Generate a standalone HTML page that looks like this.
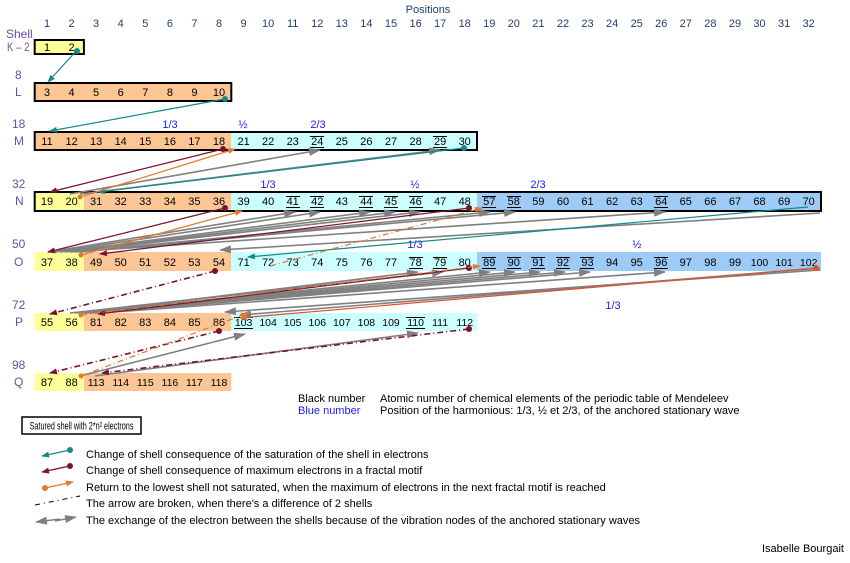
<!DOCTYPE html>
<html><head><meta charset="utf-8"><style>
body{margin:0;background:#fff;width:850px;height:558px;overflow:hidden}
svg{font-family:"Liberation Sans",sans-serif;font-size:11px}
.h{fill:#1f3f6e;text-anchor:middle}
.s{fill:#6a4fa6;font-size:12px}
.n text{text-anchor:middle;fill:#000}
.b{fill:#1a1aff;text-anchor:middle}
.u{stroke:#000;stroke-width:1}
.t3{font-size:10.5px}
</style></head><body>
<svg width="850" height="558" viewBox="0 0 850 558">
<defs>
<marker id="at" markerWidth="8" markerHeight="6" refX="7" refY="3" orient="auto" markerUnits="userSpaceOnUse"><path d="M0,0L8,3L0,6z" fill="#138a8a"/></marker>
<marker id="am" markerWidth="8" markerHeight="6" refX="7" refY="3" orient="auto" markerUnits="userSpaceOnUse"><path d="M0,0L8,3L0,6z" fill="#7b1030"/></marker>
<marker id="ao" markerWidth="8" markerHeight="6" refX="7" refY="3" orient="auto" markerUnits="userSpaceOnUse"><path d="M0,0L8,3L0,6z" fill="#e07a30"/></marker>
<marker id="ag" markerWidth="12" markerHeight="8" refX="11" refY="4" orient="auto" markerUnits="userSpaceOnUse"><path d="M0,0L12,4L0,8z" fill="#7f7f7f"/></marker>
</defs>
<text x="428" y="13" class="h" style="fill:#1f3f6e">Positions</text>
<g class="h">
<text x="47" y="27">1</text><text x="71.6" y="27">2</text><text x="96.1" y="27">3</text><text x="120.7" y="27">4</text><text x="145.3" y="27">5</text><text x="169.9" y="27">6</text><text x="194.4" y="27">7</text><text x="219" y="27">8</text><text x="243.6" y="27">9</text><text x="268.1" y="27">10</text><text x="292.7" y="27">11</text><text x="317.3" y="27">12</text><text x="341.8" y="27">13</text><text x="366.4" y="27">14</text><text x="391" y="27">15</text><text x="415.6" y="27">16</text><text x="440.1" y="27">17</text><text x="464.7" y="27">18</text><text x="489.3" y="27">19</text><text x="513.8" y="27">20</text><text x="538.4" y="27">21</text><text x="563" y="27">22</text><text x="587.5" y="27">23</text><text x="612.1" y="27">24</text><text x="636.7" y="27">25</text><text x="661.3" y="27">26</text><text x="685.8" y="27">27</text><text x="710.4" y="27">28</text><text x="735" y="27">29</text><text x="759.5" y="27">30</text><text x="784.1" y="27">31</text><text x="808.7" y="27">32</text>
</g>
<g class="s">
<text x="6" y="38">Shell</text><text transform="translate(7,51) scale(0.8,1)">K – 2</text>
<text x="15" y="79">8</text><text x="15" y="96">L</text>
<text x="12" y="128">18</text><text x="14" y="145">M</text>
<text x="12" y="188">32</text><text x="15" y="205">N</text>
<text x="12" y="248">50</text><text x="14" y="266">O</text>
<text x="12" y="309">72</text><text x="15" y="326">P</text>
<text x="12" y="369">98</text><text x="14" y="386">Q</text>
</g>
<rect x="34.7" y="40" width="49.2" height="14" fill="#ffff99"/>
<rect x="34.7" y="83" width="196.6" height="18" fill="#fcc694"/>
<rect x="34.7" y="132" width="196.6" height="18" fill="#fcc694"/>
<rect x="231.3" y="132" width="245.7" height="18" fill="#ccffff"/>
<rect x="34.7" y="192" width="49.2" height="19" fill="#ffff99"/>
<rect x="83.9" y="192" width="147.4" height="19" fill="#fcc694"/>
<rect x="231.3" y="192" width="245.7" height="19" fill="#ccffff"/>
<rect x="477" y="192" width="344" height="19" fill="#9dcbf5"/>
<rect x="34.7" y="252" width="49.2" height="19" fill="#ffff99"/>
<rect x="83.9" y="252" width="147.4" height="19" fill="#fcc694"/>
<rect x="231.3" y="252" width="245.7" height="19" fill="#ccffff"/>
<rect x="477" y="252" width="344" height="19" fill="#9dcbf5"/>
<rect x="34.7" y="313" width="49.2" height="18" fill="#ffff99"/>
<rect x="83.9" y="313" width="147.4" height="18" fill="#fcc694"/>
<rect x="231.3" y="313" width="245.7" height="18" fill="#ccffff"/>
<rect x="34.7" y="373" width="49.2" height="18" fill="#ffff99"/>
<rect x="83.9" y="373" width="147.4" height="18" fill="#fcc694"/>
<g fill="none" stroke="#000" stroke-width="2">
<rect x="34.7" y="40" width="49.2" height="14"/>
<rect x="34.7" y="83" width="196.6" height="18"/>
<rect x="34.7" y="132" width="442.3" height="18"/>
<rect x="34.7" y="192" width="786.3" height="19"/>
</g>
<g class="n">
<text x="47" y="51">1</text><text x="71.6" y="51">2</text>
<text x="47" y="96">3</text><text x="71.6" y="96">4</text><text x="96.1" y="96">5</text><text x="120.7" y="96">6</text><text x="145.3" y="96">7</text><text x="169.9" y="96">8</text><text x="194.4" y="96">9</text><text x="219" y="96">10</text>
<text x="47" y="145">11</text><text x="71.6" y="145">12</text><text x="96.1" y="145">13</text><text x="120.7" y="145">14</text><text x="145.3" y="145">15</text><text x="169.9" y="145">16</text><text x="194.4" y="145">17</text><text x="219" y="145">18</text><text x="243.6" y="145">21</text><text x="268.1" y="145">22</text><text x="292.7" y="145">23</text><text x="317.3" y="145">24</text><text x="341.8" y="145">25</text><text x="366.4" y="145">26</text><text x="391" y="145">27</text><text x="415.6" y="145">28</text><text x="440.1" y="145">29</text><text x="464.7" y="145">30</text>
<text x="47" y="205">19</text><text x="71.6" y="205">20</text><text x="96.1" y="205">31</text><text x="120.7" y="205">32</text><text x="145.3" y="205">33</text><text x="169.9" y="205">34</text><text x="194.4" y="205">35</text><text x="219" y="205">36</text><text x="243.6" y="205">39</text><text x="268.1" y="205">40</text><text x="292.7" y="205">41</text><text x="317.3" y="205">42</text><text x="341.8" y="205">43</text><text x="366.4" y="205">44</text><text x="391" y="205">45</text><text x="415.6" y="205">46</text><text x="440.1" y="205">47</text><text x="464.7" y="205">48</text><text x="489.3" y="205">57</text><text x="513.8" y="205">58</text><text x="538.4" y="205">59</text><text x="563" y="205">60</text><text x="587.5" y="205">61</text><text x="612.1" y="205">62</text><text x="636.7" y="205">63</text><text x="661.3" y="205">64</text><text x="685.8" y="205">65</text><text x="710.4" y="205">66</text><text x="735" y="205">67</text><text x="759.5" y="205">68</text><text x="784.1" y="205">69</text><text x="808.7" y="205">70</text>
<text x="47" y="266">37</text><text x="71.6" y="266">38</text><text x="96.1" y="266">49</text><text x="120.7" y="266">50</text><text x="145.3" y="266">51</text><text x="169.9" y="266">52</text><text x="194.4" y="266">53</text><text x="219" y="266">54</text><text x="243.6" y="266">71</text><text x="268.1" y="266">72</text><text x="292.7" y="266">73</text><text x="317.3" y="266">74</text><text x="341.8" y="266">75</text><text x="366.4" y="266">76</text><text x="391" y="266">77</text><text x="415.6" y="266">78</text><text x="440.1" y="266">79</text><text x="464.7" y="266">80</text><text x="489.3" y="266">89</text><text x="513.8" y="266">90</text><text x="538.4" y="266">91</text><text x="563" y="266">92</text><text x="587.5" y="266">93</text><text x="612.1" y="266">94</text><text x="636.7" y="266">95</text><text x="661.3" y="266">96</text><text x="685.8" y="266">97</text><text x="710.4" y="266">98</text><text x="735" y="266">99</text><text x="759.5" y="266" class="t3">100</text><text x="784.1" y="266" class="t3">101</text><text x="808.7" y="266" class="t3">102</text>
<text x="47" y="326">55</text><text x="71.6" y="326">56</text><text x="96.1" y="326">81</text><text x="120.7" y="326">82</text><text x="145.3" y="326">83</text><text x="169.9" y="326">84</text><text x="194.4" y="326">85</text><text x="219" y="326">86</text><text x="243.6" y="326" class="t3">103</text><text x="268.1" y="326" class="t3">104</text><text x="292.7" y="326" class="t3">105</text><text x="317.3" y="326" class="t3">106</text><text x="341.8" y="326" class="t3">107</text><text x="366.4" y="326" class="t3">108</text><text x="391" y="326" class="t3">109</text><text x="415.6" y="326" class="t3">110</text><text x="440.1" y="326" class="t3">111</text><text x="464.7" y="326" class="t3">112</text>
<text x="47" y="386">87</text><text x="71.6" y="386">88</text><text x="96.1" y="386" class="t3">113</text><text x="120.7" y="386" class="t3">114</text><text x="145.3" y="386" class="t3">115</text><text x="169.9" y="386" class="t3">116</text><text x="194.4" y="386" class="t3">117</text><text x="219" y="386" class="t3">118</text>
</g>
<g class="u">
<path d="M310,147.5h14M310,136.5h14M433,147.5h14M433,136.5h14"/>
<path d="M286,207.5h14M286,196.5h14M310,207.5h14M310,196.5h14M359,207.5h14M359,196.5h14M384,207.5h14M384,196.5h14M409,207.5h14M409,196.5h14M482,207.5h14M482,196.5h14M507,207.5h14M507,196.5h14M654,207.5h14M654,196.5h14"/>
<path d="M409,268.5h14M409,257.5h14M433,268.5h14M433,257.5h14M482,268.5h14M482,257.5h14M507,268.5h14M507,257.5h14M531,268.5h14M531,257.5h14M556,268.5h14M556,257.5h14M580,268.5h14M580,257.5h14M654,268.5h14M654,257.5h14"/>
<path d="M234,328.5h19M234,317.5h19M406,328.5h19M406,317.5h19"/>
</g>
<g class="b">
<text x="170" y="128">1/3</text><text x="243" y="128">½</text><text x="318" y="128">2/3</text>
<text x="268" y="188">1/3</text><text x="415" y="188">½</text><text x="538" y="188">2/3</text>
<text x="415" y="248">1/3</text><text x="637" y="248">½</text>
<text x="613" y="309">1/3</text>
</g>
<g stroke="#808080" stroke-width="1.6" fill="none" marker-end="url(#ag)">
<path d="M70,194L320,150"/><path d="M80,194L440,150"/>
<path d="M48,252L295,212"/><path d="M55,252L320,212"/><path d="M60,252L370,212"/><path d="M65,252L395,212"/><path d="M70,252L420,212"/><path d="M75,252L490,212"/><path d="M80,252L515,212"/><path d="M70,252L665,212"/>
<path d="M820,213L220,250"/>
<path d="M80,313L418,272"/><path d="M70,313L443,272"/><path d="M75,313L490,272"/><path d="M80,313L515,272"/><path d="M85,313L540,272"/><path d="M90,313L565,272"/><path d="M95,313L590,272"/><path d="M100,313L665,272"/>
<path d="M820,270L225,312"/><path d="M820,268L240,315"/>
<path d="M80,376L245,334"/><path d="M95,376L418,333"/>
</g>
<g stroke="#138a8a" stroke-width="1.2" fill="none" marker-end="url(#at)">
<path d="M77,50L48,82"/><path d="M225,99L50,131"/><path d="M464,148L98,192"/><path d="M808,207L248,257"/>
</g>
<g fill="#138a8a"><circle cx="77" cy="51" r="3"/><circle cx="225" cy="99" r="3"/><circle cx="464" cy="148" r="3"/></g>
<g stroke="#7b1030" stroke-width="1.2" fill="none" marker-end="url(#am)">
<path d="M223,149L50,192"/><path d="M225,208L48,252"/><path d="M469,208L100,254"/><path d="M469,268L98,314"/>
<path d="M215,271L50,314" stroke-dasharray="6,3,1,3" stroke-width="1.6"/>
<path d="M219,331L50,373" stroke-dasharray="6,3,1,3" stroke-width="1.6"/>
<path d="M469,329L102,373" stroke-dasharray="6,3,1,3" stroke-width="1.6"/>
</g>
<g fill="#7b1030"><circle cx="223" cy="149" r="3"/><circle cx="225" cy="208" r="3"/><circle cx="469" cy="208" r="3"/><circle cx="469" cy="268" r="3"/><circle cx="215" cy="271" r="3"/><circle cx="219" cy="331" r="3"/><circle cx="469" cy="329" r="3"/></g>
<g stroke="#e07a30" stroke-width="1.2" fill="none" marker-end="url(#ao)">
<path d="M80,197L235,149"/><path d="M81,255L242,211"/>
<path d="M270,266L482,208" stroke-dasharray="6,3,1,3"/>
<path d="M81,315L480,266" stroke-dasharray="6,3,1,3"/>
<path d="M81,376L248,313" stroke-dasharray="6,3,1,3"/>
<path d="M816,268L240,318" stroke="#e5502a"/>
</g>
<g fill="#e07a30"><circle cx="80" cy="197" r="2.5"/><circle cx="81" cy="255" r="2.5"/><circle cx="81" cy="315" r="2.5"/><circle cx="81" cy="376" r="2.5"/><circle cx="816" cy="268" r="3" fill="#e5502a"/></g>
<text x="298" y="402">Black number</text><text x="380" y="402">Atomic number of chemical elements of the periodic table of Mendeleev</text>
<text x="298" y="414" fill="#1a1aff">Blue number</text><text x="380" y="414">Position of the harmonious: 1/3, ½ et 2/3, of the anchored stationary wave</text>
<rect x="22" y="417" width="119" height="17" fill="#fff" stroke="#000" stroke-width="1.5"/>
<text transform="translate(81.5,429.5) scale(0.66,1)" text-anchor="middle" font-size="11">Satured shell with 2*n² electrons</text>
<path d="M70,450L42,456" stroke="#138a8a" stroke-width="1.2" marker-end="url(#at)"/><circle cx="70" cy="450" r="3" fill="#138a8a"/>
<path d="M70,466L42,472" stroke="#7b1030" stroke-width="1.2" marker-end="url(#am)"/><circle cx="70" cy="466" r="3" fill="#7b1030"/>
<path d="M45,488L73,482" stroke="#e07a30" stroke-width="1.2" marker-end="url(#ao)"/><circle cx="45" cy="488" r="3" fill="#e07a30"/>
<path d="M35,505L80,496" stroke="#000" stroke-width="1" stroke-dasharray="5,4,1,4"/>
<path d="M60,519L36,522" stroke="#808080" stroke-width="1.6" marker-end="url(#ag)"/><path d="M55,521L76,517" stroke="#808080" stroke-width="1.6" marker-end="url(#ag)"/>
<text x="86" y="458">Change of shell consequence of the saturation of the shell in electrons</text>
<text x="86" y="474">Change of shell consequence of maximum electrons in a fractal motif</text>
<text x="86" y="491">Return to the lowest shell not saturated, when the maximum of electrons in the next fractal motif is reached</text>
<text x="86" y="507">The arrow are broken, when there's a difference of 2 shells</text>
<text x="86" y="524">The exchange of the electron between the shells because of the vibration nodes of the anchored stationary waves</text>
<text x="762" y="552">Isabelle Bourgait</text>
</svg>
</body></html>
